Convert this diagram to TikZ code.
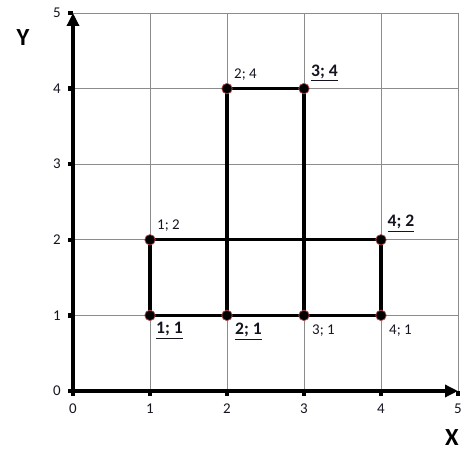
\documentclass[tikz,border=0pt]{standalone}
\usepackage{fontspec}
\setmainfont{Carlito}
\usepackage{tikz}
\usetikzlibrary{arrows.meta,positioning}
\definecolor{gridgray}{HTML}{8C8C8C}
\definecolor{dotrim}{HTML}{B84A4A}
\definecolor{ticktext}{HTML}{141420}

\begin{document}
\begin{tikzpicture}[x=1.54cm,y=1.512cm,
      dot/.style={circle,fill=black,draw=dotrim,line width=0.4pt,minimum size=2.1mm,inner sep=0pt},
      lbl/.style={font=\fontsize{8.5}{10}\selectfont,text=ticktext,inner sep=0.5pt},
      blbl/.style={font=\fontsize{10}{11}\selectfont\bfseries,text=ticktext,inner sep=0.5pt},
      axis/.style={line width=2.3pt,-{Triangle[length=2.6mm,width=2.4mm]}},
      edge/.style={line width=1.9pt}]
    \useasboundingbox (-1.46cm,-1.48cm) rectangle (8.04cm,7.82cm);
    % grid
    \foreach \i in {1,...,5} {
      \draw[gridgray,line width=0.5pt] (\i,0) -- (\i,5);
      \draw[gridgray,line width=0.5pt] (0,\i) -- (5,\i);
    }
    % ticks and numbers
    \foreach \i in {0,...,5} {
      \fill (\i,0) ++(-0.045cm,-0.1cm) rectangle ++(0.09cm,0.1cm);
      \fill (0,\i) ++(-0.1cm,-0.045cm) rectangle ++(0.1cm,0.09cm);
      \node[lbl] (xt\i) at ([yshift=-0.36cm]\i,0) {\i};
      \node[lbl] (yt\i) at ([xshift=-0.32cm]0,\i) {\i};
    }
    \coordinate (xend) at (5,0);
    \coordinate (yend) at (0,5);
    \draw[axis] (-0.02,0) -- (xend);
    \draw[axis] (0,-0.02) -- (yend);
    \node[font=\fontsize{14}{16}\selectfont\bfseries] (xl) at (4.922,-0.622) {X};
    \node[font=\fontsize{14}{16}\selectfont\bfseries] (yl) at (-0.649,4.669) {Y};
    % the figure
    \draw[edge] (1,1) rectangle (4,2);
    \draw[edge] (2,1) rectangle (3,4);
    \foreach \x/\y in {1/1,2/1,3/1,4/1,1/2,4/2,2/4,3/4}
      \node[dot] (p\x\y) at (\x,\y) {};
    \node[blbl,below right=0.3mm and 0.2mm of p11] {\underline{1; 1}};
    \node[blbl,below right=0.4mm and 0.6mm of p21] {\underline{2; 1}};
    \node[lbl,below right=0.8mm and 0.6mm of p31] {3; 1};
    \node[lbl,below right=0.8mm and 0.6mm of p41] {4; 1};
    \node[lbl,above right=0.6mm and 0.4mm of p12] {1; 2};
    \node[blbl,above right=0.4mm and 0.3mm of p42] {\underline{4; 2}};
    \node[lbl,above right=0.5mm and 0.4mm of p24] {2; 4};
    \node[blbl,above right=0.3mm and 0.4mm of p34] {\underline{3; 4}};
  \end{tikzpicture}
\end{document}
